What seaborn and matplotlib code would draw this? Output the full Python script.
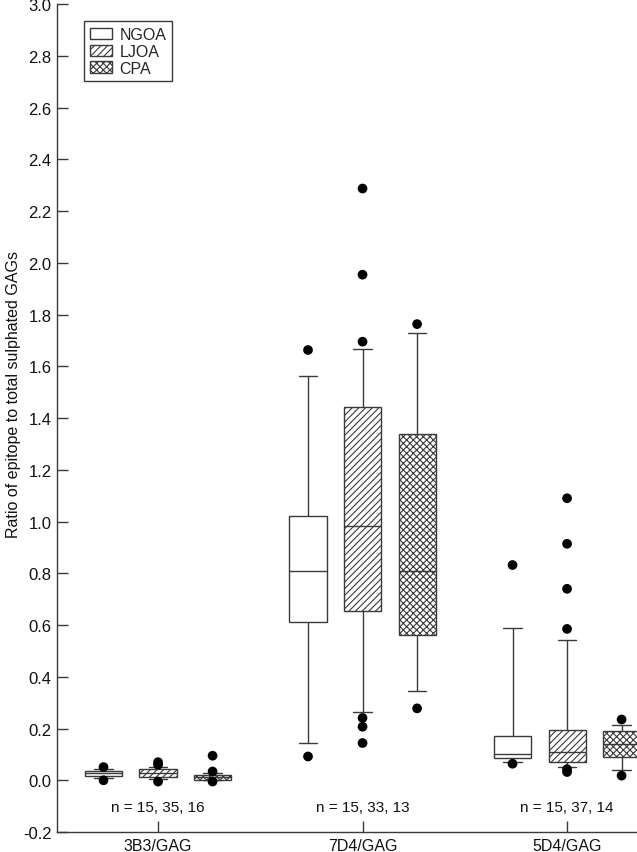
import numpy as np
import pandas as pd
import matplotlib
matplotlib.use("Agg")
import matplotlib.pyplot as plt
from matplotlib.patches import Patch
from matplotlib.ticker import FormatStrFormatter
import seaborn as sns

sns.set_theme(style="ticks")
plt.rcParams['font.family'] = ['Liberation Sans', 'DejaVu Sans']
plt.rcParams['hatch.linewidth'] = 0.8

# Categories
groups = ["3B3/GAG", "7D4/GAG", "5D4/GAG"]
tissues = ["NGOA", "LJOA", "CPA"]
n_counts = [[15, 35, 16], [15, 33, 13], [15, 37, 14]]

# Five-number summaries: whisker low, Q1, median, Q3, whisker high
ngoa_5num = [[0.008, 0.017, 0.027, 0.034, 0.043],
             [0.146, 0.611, 0.807, 1.020, 1.562],
             [0.070, 0.086, 0.103, 0.172, 0.590]]
ljoa_5num = [[0.005, 0.012, 0.028, 0.043, 0.050],
             [0.264, 0.653, 0.981, 1.441, 1.668],
             [0.051, 0.070, 0.109, 0.195, 0.543]]
cpa_5num = [[0.000, 0.002, 0.012, 0.021, 0.030],
            [0.346, 0.563, 0.807, 1.340, 1.730],
            [0.040, 0.090, 0.140, 0.190, 0.215]]

# Outliers (filled dots)
ngoa_out = [[0.051, 0.000], [1.663, 0.092], [0.832, 0.064]]
ljoa_out = [[0.070, 0.060, -0.005],
            [2.287, 1.954, 1.695, 0.241, 0.207, 0.144],
            [1.090, 0.914, 0.740, 0.585, 0.043, 0.032]]
cpa_out = [[0.095, 0.034, -0.005], [1.763, 0.278], [0.235, 0.018]]

hatches = {"NGOA": "", "LJOA": "/////", "CPA": "xxxxx"}
line_col = "#3a3a3a"


def to_long(per_tissue):
    rows = []
    for tissue, per_group in zip(tissues, per_tissue):
        for g, vals in zip(groups, per_group):
            for v in vals:
                rows.append((g, tissue, v))
    return pd.DataFrame(rows, columns=["marker", "tissue", "ratio"])


box_df = to_long([ngoa_5num, ljoa_5num, cpa_5num])
out_df = to_long([ngoa_out, ljoa_out, cpa_out])

fig = plt.figure(figsize=(6.37, 8.53), dpi=100)
ax = fig.add_axes([0.0895, 0.0234, 0.9105, 0.9707])

sns.boxplot(data=box_df, x="marker", y="ratio", hue="tissue",
            order=groups, hue_order=tissues, whis=(0, 100),
            palette={t: "white" for t in tissues}, linecolor=line_col,
            linewidth=1, width=0.8, gap=0.32, fliersize=0,
            legend=False, ax=ax)

# hatch the boxes according to their hue slot
slot = 0.8 / len(tissues)
for patch in ax.patches:
    ext = patch.get_path().get_extents()
    cx = (ext.x0 + ext.x1) / 2
    idx = int(round((cx - round(cx)) / slot)) + 1
    patch.set_hatch(hatches[tissues[idx]])
    patch.set_edgecolor(line_col)

sns.stripplot(data=out_df, x="marker", y="ratio", hue="tissue",
              order=groups, hue_order=tissues, dodge=True, jitter=False,
              palette={t: "black" for t in tissues}, size=7, linewidth=0,
              legend=False, ax=ax, zorder=5)

for i, ns in enumerate(n_counts):
    ax.text(i, -0.105, f"n = {ns[0]}, {ns[1]}, {ns[2]}",
            ha="center", va="center", fontsize=11, color="#111")

ax.set_ylim(-0.2, 3.0)
ax.set_xlim(-0.494, 2.342)
ax.set_yticks(np.arange(-0.2, 3.01, 0.2))
ax.yaxis.set_major_formatter(FormatStrFormatter('%.1f'))
ax.set_xlabel("")
ax.set_ylabel("Ratio of epitope to total sulphated GAGs", fontsize=11.5,
              color="#111")
ax.yaxis.set_label_coords(-0.062, 0.53)
ax.tick_params(axis="both", direction="in", length=8, width=1,
               color=line_col, labelcolor="#111", pad=4)
ax.tick_params(axis="y", labelsize=12)
ax.tick_params(axis="x", labelsize=11.5)
sns.despine(ax=ax)
for side in ["left", "bottom"]:
    ax.spines[side].set_color(line_col)
    ax.spines[side].set_linewidth(1)

handles = [Patch(facecolor="white", edgecolor=line_col, hatch=hatches[t],
                 linewidth=1, label=t) for t in tissues]
leg = ax.legend(handles=handles, loc="upper left",
                bbox_to_anchor=(0.047, 0.979), frameon=True, fancybox=False,
                edgecolor=line_col, framealpha=1, fontsize=11.5,
                handlelength=1.4, handleheight=0.75, labelspacing=0.12,
                handletextpad=0.45, borderpad=0.35, borderaxespad=0)
leg.get_frame().set_linewidth(1)

fig.savefig("out.png", dpi=100)
